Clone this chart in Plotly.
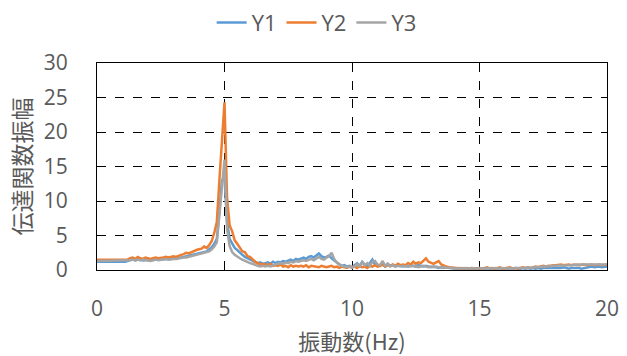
import plotly.graph_objects as go

freq = [round(i * 0.1, 1) for i in range(201)]

y1 = [1.2,1.2,1.2,1.2,1.2,1.2,1.2,1.2,1.1,1.2,1.1,1.2,1.3,
      1.5,1.6,1.4,1.5,1.6,1.4,1.5,1.5,
      1.4,1.5,1.6,1.5,1.5,1.6,1.6,1.7,1.6,1.7,
      1.7,1.8,1.8,1.9,2.0,2.0,2.1,2.2,2.3,2.4,
      2.5,2.6,2.7,3.0,3.3,
      3.8,4.5,8.5,13.0,13.5,
      7.0,4.5,3.8,3.2,2.9,
      2.5,2.2,1.9,1.7,1.5,
      1.3,1.2,1.0,1.1,0.9,
      1.0,1.1,0.9,1.2,1.0,
      1.2,1.1,1.3,1.2,1.4,1.5,1.3,1.6,1.5,1.7,
      1.8,1.6,1.9,2.0,1.8,2.1,2.4,2.0,1.8,1.9,
      2.1,1.7,1.4,1.0,0.8,0.6,0.7,0.5,0.6,0.4,
      0.7,1.0,0.6,1.2,0.8,0.5,1.0,1.5,0.8,0.7,
      0.6,0.8,0.5,0.9,0.6,0.7,0.5,0.8,0.6,0.5,
      0.6,0.5,0.7,0.6,0.5,0.7,0.6,0.5,0.6,0.5,
      0.4,0.5,0.4,0.3,0.4,0.3,0.4,0.3,0.3,0.2,
      0.2,0.3,0.2,0.2,0.1,0.2,0.2,0.1,0.2,0.2,
      0.1,0.2,0.2,0.1,0.2,0.1,0.2,0.2,0.1,0.2,
      0.2,0.1,0.2,0.3,0.2,0.2,0.3,0.2,0.3,0.2,
      0.3,0.2,0.3,0.2,0.3,0.3,0.2,0.3,0.2,0.3,
      0.2,0.3,0.4,0.3,0.2,0.3,0.3,0.4,0.3,0.2,
      0.3,0.4,0.5,0.5,0.4,0.5,0.5,0.4,0.5,0.5]

y2 = [1.5,1.5,1.5,1.5,1.5,1.5,1.5,1.5,1.5,1.5,1.5,1.5,1.5,
      1.7,1.8,1.6,1.9,1.7,1.6,1.8,1.7,
      1.6,1.7,1.8,1.7,1.7,1.8,1.9,1.8,1.9,2.0,
      1.9,2.1,2.2,2.3,2.5,2.4,2.6,2.7,2.9,3.0,
      3.1,3.4,3.2,3.6,4.2,
      5.4,7.0,13.0,18.5,24.3,
      10.5,6.5,5.6,4.3,3.8,
      3.3,2.7,2.6,2.0,1.9,
      1.5,1.2,1.0,0.8,0.9,
      0.8,0.7,0.9,0.6,0.7,
      0.6,0.8,0.5,0.6,0.4,0.7,0.5,0.6,0.5,0.6,
      0.5,0.7,0.4,0.6,0.5,0.5,0.4,0.6,0.5,0.4,
      0.5,0.6,0.4,0.5,0.3,0.5,0.4,0.3,0.5,0.4,
      0.5,0.3,0.6,0.4,0.5,0.3,0.6,0.5,0.7,0.5,
      0.6,0.8,0.5,0.7,0.6,0.8,0.6,0.9,0.7,0.8,
      0.7,1.0,0.8,1.2,0.9,1.1,1.0,1.4,1.7,1.2,
      1.0,0.9,1.1,1.3,0.8,0.6,0.5,0.4,0.4,0.3,
      0.3,0.2,0.3,0.2,0.3,0.2,0.3,0.2,0.3,0.3,
      0.2,0.3,0.4,0.2,0.3,0.2,0.3,0.4,0.2,0.3,
      0.3,0.4,0.2,0.3,0.2,0.3,0.4,0.3,0.4,0.3,
      0.4,0.5,0.4,0.5,0.6,0.5,0.6,0.7,0.7,0.7,
      0.8,0.8,0.7,0.8,0.8,0.7,0.8,0.8,0.7,0.8,
      0.8,0.7,0.8,0.8,0.7,0.8,0.8,0.7,0.8,0.8]

y3 = [1.3,1.3,1.3,1.3,1.3,1.3,1.3,1.3,1.3,1.3,1.3,1.3,1.3,
      1.4,1.5,1.4,1.5,1.4,1.5,1.4,1.4,
      1.3,1.4,1.5,1.4,1.5,1.5,1.6,1.5,1.6,1.6,
      1.6,1.7,1.7,1.8,1.8,1.9,2.0,2.0,2.1,2.2,
      2.3,2.4,2.5,2.7,3.0,
      3.4,4.0,7.5,12.0,16.0,
      6.0,3.5,2.6,2.2,1.9,
      1.7,1.5,1.3,1.2,1.0,
      0.9,0.7,0.6,0.5,0.6,
      0.5,0.6,0.5,0.7,0.8,
      0.9,1.0,0.9,1.1,1.0,1.2,1.1,1.3,1.2,1.3,
      1.4,1.3,1.5,1.6,1.4,1.7,1.9,1.6,1.5,1.8,
      2.0,2.5,1.6,1.1,0.8,0.6,0.5,0.4,0.5,0.3,
      0.5,0.9,0.5,1.1,0.7,1.0,0.6,1.2,1.3,0.8,
      0.7,1.3,0.6,0.9,0.5,0.7,0.5,0.6,0.5,0.6,
      0.5,0.6,0.5,0.6,0.5,0.4,0.5,0.6,0.5,0.4,
      0.5,0.4,0.5,0.4,0.3,0.4,0.3,0.3,0.3,0.2,
      0.2,0.3,0.2,0.3,0.2,0.2,0.3,0.2,0.2,0.3,
      0.2,0.2,0.3,0.2,0.2,0.3,0.2,0.2,0.3,0.2,
      0.2,0.3,0.2,0.3,0.3,0.2,0.3,0.3,0.4,0.3,
      0.4,0.4,0.5,0.4,0.5,0.5,0.6,0.5,0.6,0.6,
      0.6,0.7,0.6,0.7,0.7,0.7,0.8,0.7,0.8,0.8,
      0.8,0.8,0.8,0.9,0.8,0.8,0.9,0.8,0.8,0.8]

series_names = ["Y1", "Y2", "Y3"]
colors = ["#5B9BD5", "#ED7D31", "#A5A5A5"]

x_ticks = [0, 5, 10, 15, 20]
y_ticks = [0, 5, 10, 15, 20, 25, 30]

fig = go.Figure()
for name, ys, c in zip(series_names, [y1, y2, y3], colors):
    fig.add_trace(go.Scatter(x=freq, y=ys, mode="lines", name=name,
                             line=dict(color=c, width=2.5)))

cjk = "Noto Sans CJK JP, sans-serif"
num = "Open Sans, sans-serif"
fig.update_layout(
    width=627, height=356,
    margin=dict(l=97, r=20, t=63, b=86, autoexpand=False),
    paper_bgcolor="white", plot_bgcolor="white",
    font=dict(family=num, color="#595959", size=21),
    showlegend=True,
    legend=dict(orientation="h", x=0.505, xanchor="center", y=0.995, yanchor="top",
                xref="container", yref="container",
                font=dict(size=22, color="#595959", family=num), itemwidth=30,
                traceorder="normal", tracegroupgap=0),
)
fig.update_xaxes(range=[0, 20], tickvals=x_ticks, showgrid=True, automargin=False,
                 gridcolor="black", griddash="dash", gridwidth=1,
                 showline=True, linecolor="black", linewidth=1.2, mirror=True,
                 zeroline=False, ticks="", ticklabelstandoff=20,
                 tickfont=dict(size=21, family=num),
                 title=dict(text="振動数(Hz)", font=dict(size=22, family=cjk), standoff=13))
fig.update_yaxes(range=[0, 30], tickvals=y_ticks, showgrid=True, automargin=False,
                 gridcolor="black", griddash="dash", gridwidth=1,
                 showline=True, linecolor="black", linewidth=1.2, mirror=True,
                 zeroline=False, ticks="", ticklabelstandoff=24,
                 tickfont=dict(size=21, family=num),
                 title=dict(text="伝達関数振幅", font=dict(size=23, family=cjk), standoff=5))

fig.write_html("out.html")
